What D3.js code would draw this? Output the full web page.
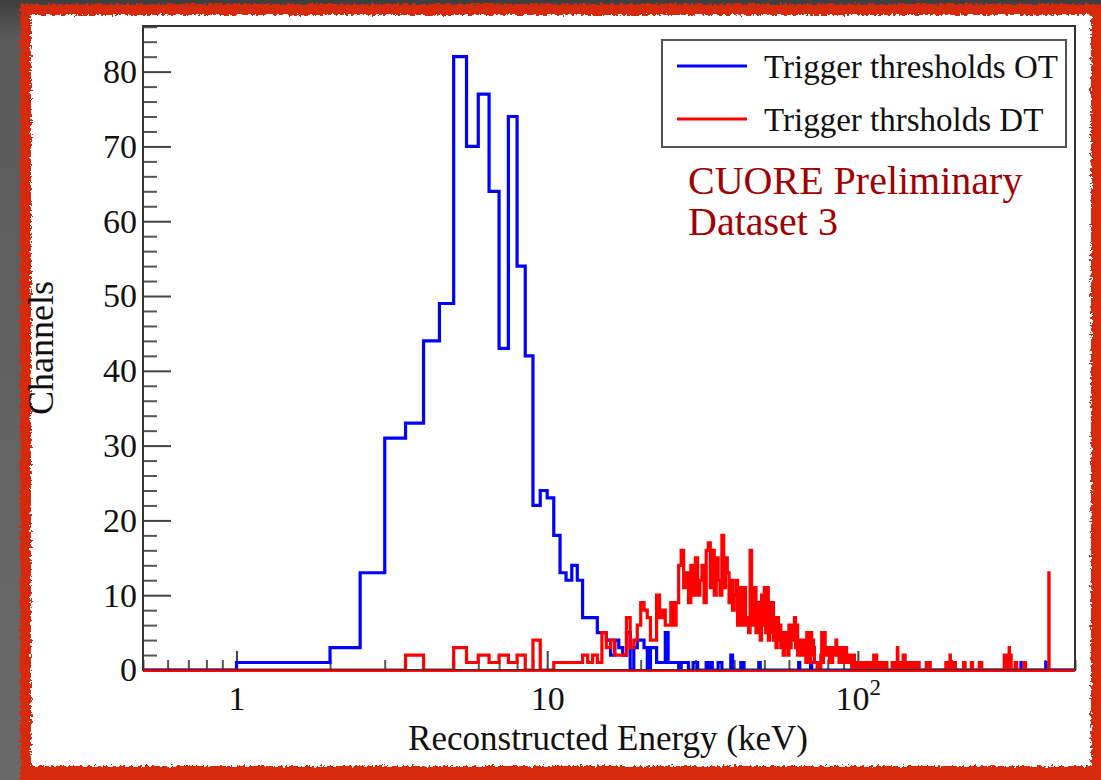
<!DOCTYPE html>
<html><head><meta charset="utf-8">
<script src="https://cdn.jsdelivr.net/npm/d3@7"></script>
<style>
html,body{margin:0;padding:0;background:#5e5e5e;}
svg{display:block;}
</style></head><body>
<svg id="chart" width="1101" height="780"></svg>
<script>
// ---------------- data (0.5 keV bins, value = channels per bin) ----------------
const binWidth = 0.5;
const xDomain = [0.5, 500];
const yMax = 86.1;

// "Trigger thresholds OT" (blue), bins starting at 1.0 keV
const blueStart = 1.0;
const blueCounts = [
  1,1,3,13,31,33,44,49,82,70,     // 1.0 - 5.5
  77,64,43,74,54,42,22,24,23,18,  // 6.0 - 10.5
  13,12,14,12,7,7,7,5,5,4,        // 11.0 - 15.5
  2,4,3,2,5,0,3,4,4,3,            // 16.0 - 20.5
  0,3,3,1,1,1,5,1,1,1,            // 21.0 - 25.5
  1,0,1,1,1,0,0,1                 // 26.0 - 29.5
];
// sparse blue bins above 30 keV: [lower edge keV, count]
const blueTail = [[30,1],[32.5,1],[33.5,1],[35.5,1],[36,1],[39,2],[42,1],[42.5,1],
  [48,1],[64.5,1],[70.5,1],[117,1],[335,1],[403,1]];

// "Trigger thrsholds DT" (red), bins starting at 3.0 keV
const redStart = 3.0;
const redCounts = [
  0,2,0,0,3,1,2,1,2,1,            // 3.0 - 7.5
  2,0,4,0,0,1,1,1,1,1,            // 8.0 - 12.5
  2,1,2,1,5,3,4,2,2,2,            // 13.0 - 17.5
  7,3,4,6,9,8,7,4,4,10,           // 18.0 - 22.5
  7,8,6,6,9,6,9,14,16,11,         // 23.0 - 27.5
  13,9,14,10,15,10,12,14,9,16,    // 28.0 - 32.5
  17,11,16,10,15,12,10,18,11,15,  // 33.0 - 37.5
  13,9,12,8,10,12,6,11,9,6,       // 38.0 - 42.5
  11,6,7,5,16,9,6,11,5,9,         // 43.0 - 47.5
  7,4,10,6,11,5,11,4,9,5,         // 48.0 - 52.5
  9,4,7,3,7,4,6,3,5,2,            // 53.0 - 57.5
  5,3,5,2,6,3,6,4,5,7,            // 58.0 - 62.5
  3,6,2,4,2,4,3,4,2,4,            // 63.0 - 67.5
  1,5,2,5,1,5,2,4,3,1,            // 68.0 - 72.5
  1,1,0,1,1,0,2,5,1,3,            // 73.0 - 77.5
  5,2,3,2,3,2,1,3,2,1,            // 78.0 - 82.5
  3,2,3,2,4,3,2,3,1,3,            // 83.0 - 87.5
  3,2,3,1,3,2,1,3,2,1,            // 88.0 - 92.5
  2,1,2,1,2,0,2,1,2,0,            // 93.0 - 97.5
  1,0,1,1                         // 98.0 - 99.5
];
// sparse red bins above 100 keV: [lower edge keV, count]
const redTail = [[100,1],[101,1],[102,1],[103,1],[104,1],[105,1],[106,1],[107,1],[108,1],
  [109,1],[110,1],[111,1],[112.5,2],[113.5,1],[114.5,2],[116,1],[117.5,1],[119,1],[120.5,1],
  [122,1],[123.5,1],[129,1],[130.5,1],[132,1],[134,3],[136,1],[137.5,1],[140,2],[141.5,2],
  [143,1],[144.5,1],[146,1],[147.5,1],[150,1],[151,1],[154,1],[155.5,1],[157,1],[166,1],
  [167.5,1],[169,1],[170.5,1],[192,1],[193.5,1],[195,1],[196.5,1],[198,2],[199.5,1],[201,1],
  [202.5,1],[204,1],[205.5,1],[219,1],[221,1],[232,1],[233.5,1],[246,1],[248,1],[250,1],
  [296,2],[298,1],[300,2],[307,3],[309,1],[311,2],[321,1],[324,1],[343,1],[346,1],[412,13]];

const seriesNames = ["Trigger thresholds OT", "Trigger thrsholds DT"];
const seriesColors = ["#0000ff", "#ff0000"];
const yTicksMajor = [0,10,20,30,40,50,60,70,80];
const xTicksMajor = [1,10,100];
const xTickLabels = ["1","10","10|2"];
const annotation = ["CUORE Preliminary", "Dataset 3"];
const xTitle = "Reconstructed Energy (keV)";
const yTitle = "Channels";

// ---------------- build full histograms ----------------
const nBins = Math.round(xDomain[1] / binWidth);
function buildHist(start, counts, tail) {
  const h = new Array(nBins).fill(0);
  const i0 = Math.round(start / binWidth);
  counts.forEach((c, k) => { h[i0 + k] = c; });
  tail.forEach(([e, c]) => { h[Math.round(e / binWidth)] = c; });
  return h;
}
const blueHist = buildHist(blueStart, blueCounts, blueTail);
const redHist = buildHist(redStart, redCounts, redTail);

// ---------------- layout ----------------
const svg = d3.select("#chart");
const L = 143, R = 1075, T = 26, B = 670;
const x = d3.scaleLog().domain(xDomain).range([L, R]);
const y = d3.scaleLinear().domain([0, yMax]).range([B, T]);
const serif = "'Liberation Serif','Times New Roman',Times,serif";

// background + rough red photo border
const defs = svg.append("defs");
const g1 = defs.append("linearGradient").attr("id","bg").attr("x1",0).attr("y1",0).attr("x2",0).attr("y2",1);
g1.append("stop").attr("offset","0").attr("stop-color","#3e3e3e");
g1.append("stop").attr("offset","0.05").attr("stop-color","#5a5a5a");
g1.append("stop").attr("offset","1").attr("stop-color","#6a6a6a");
const f = defs.append("filter").attr("id","rough").attr("x","-3%").attr("y","-3%").attr("width","106%").attr("height","106%");
f.append("feTurbulence").attr("type","fractalNoise").attr("baseFrequency","0.35").attr("numOctaves",2).attr("seed",3).attr("result","n");
f.append("feDisplacementMap").attr("in","SourceGraphic").attr("in2","n").attr("scale",7)
  .attr("xChannelSelector","R").attr("yChannelSelector","G");
defs.append("clipPath").attr("id","plotclip").append("rect")
  .attr("x", L).attr("y", T - 2).attr("width", R - L).attr("height", B - T + 4);

svg.append("rect").attr("width",1101).attr("height",780).attr("fill","url(#bg)");
svg.append("rect").attr("x",20).attr("y",4).attr("width",1100).attr("height",800)
  .attr("fill","#d62a0c").attr("filter","url(#rough)");
svg.append("rect").attr("x",31).attr("y",15).attr("width",1060).attr("height",751)
  .attr("fill","#ffffff").attr("filter","url(#rough)");

// ---------------- axes (ROOT style: ticks inside) ----------------
const yMinor = d3.range(0, yMax, 2).filter(v => v % 10 !== 0);
svg.append("g").attr("transform",`translate(${L},0)`)
  .call(d3.axisLeft(y).tickValues(yMinor).tickSize(-14).tickFormat(""))
  .call(g => g.select(".domain").remove())
  .call(g => g.selectAll("line").attr("stroke","#555").attr("stroke-width",2));
svg.append("g").attr("transform",`translate(${L},0)`)
  .call(d3.axisLeft(y).tickValues(yTicksMajor).tickSize(-28).tickPadding(6).tickFormat(d3.format("d")))
  .call(g => g.select(".domain").remove())
  .call(g => g.selectAll("line").attr("stroke","#444").attr("stroke-width",2))
  .call(g => g.selectAll("text").attr("font-family",serif).attr("font-size",34).attr("fill","#111"));

const xMinor = [];
[0.1,1,10,100].forEach(dec => { for (let m = 2; m <= 9; m++) { const v = m*dec; if (v >= xDomain[0] && v <= xDomain[1] && v !== 1) xMinor.push(v); } });
svg.append("g").attr("transform",`translate(0,${B})`)
  .call(d3.axisBottom(x).tickValues(xMinor).tickSize(-10).tickFormat(""))
  .call(g => g.select(".domain").remove())
  .call(g => g.selectAll("line").attr("stroke","#555").attr("stroke-width",2));
const xMaj = svg.append("g").attr("transform",`translate(0,${B})`)
  .call(d3.axisBottom(x).tickValues(xTicksMajor).tickSize(-19).tickPadding(18).tickFormat(""))
  .call(g => g.select(".domain").remove())
  .call(g => g.selectAll("line").attr("stroke","#444").attr("stroke-width",2));
xMaj.selectAll(".tick").each(function(d, i) {
  const parts = xTickLabels[i].split("|");
  const t = d3.select(this).select("text").text(null)
    .attr("font-family",serif).attr("font-size",34).attr("fill","#111")
    .attr("y", 40).attr("dy", null);
  t.append("tspan").text(parts[0]);
  if (parts[1]) t.append("tspan").attr("font-size",23).attr("dy",-15).text(parts[1]);
  if (parts[1]) t.attr("text-anchor","middle");
});

// ---------------- histograms ----------------
function stepPoints(h) {
  const pts = [];
  for (let i = 1; i < h.length; i++) {
    const lo = Math.max(i * binWidth, xDomain[0]), hi = (i + 1) * binWidth;
    pts.push([x(lo), y(h[i])], [x(hi), y(h[i])]);
  }
  return pts;
}
const line = d3.line();
const plotG = svg.append("g").attr("clip-path","url(#plotclip)");
[blueHist, redHist].forEach((h, k) => {
  plotG.append("path").attr("d", line(stepPoints(h)))
    .attr("fill","none").attr("stroke", seriesColors[k]).attr("stroke-width",3.2)
    .attr("stroke-linejoin","miter");
});

// frame
svg.append("rect").attr("x",L).attr("y",T).attr("width",R-L).attr("height",B-T)
  .attr("fill","none").attr("stroke","#333").attr("stroke-width",2);
// red baseline lies over the bottom frame edge, like the reference
svg.append("line").attr("x1",L).attr("x2",R).attr("y1",B+1).attr("y2",B+1)
  .attr("stroke","#ff0000").attr("stroke-width",2).attr("opacity",0.9);

// ---------------- titles ----------------
svg.append("text").attr("x",608).attr("y",750).attr("text-anchor","middle")
  .attr("font-family",serif).attr("font-size",35).attr("fill","#111").text(xTitle);
svg.append("text").attr("transform","translate(53,348) rotate(-90)").attr("text-anchor","middle")
  .attr("font-family",serif).attr("font-size",36).attr("fill","#111").text(yTitle);

// ---------------- legend ----------------
const lg = svg.append("g");
lg.append("rect").attr("x",662).attr("y",40).attr("width",404).attr("height",107)
  .attr("fill","#fff").attr("stroke","#555").attr("stroke-width",2);
seriesNames.forEach((name, k) => {
  const yy = 66 + k * 53;
  lg.append("line").attr("x1",677).attr("x2",747).attr("y1",yy).attr("y2",yy)
    .attr("stroke",seriesColors[k]).attr("stroke-width",3);
  lg.append("text").attr("x",764).attr("y",yy + 12).attr("font-family",serif)
    .attr("font-size",33).attr("fill","#111").text(name);
});

// annotation
annotation.forEach((s, k) => {
  svg.append("text").attr("x",688).attr("y",194 + k * 41).attr("font-family",serif)
    .attr("font-size",40).attr("fill","#a00000").text(s);
});
</script>
</body></html>
